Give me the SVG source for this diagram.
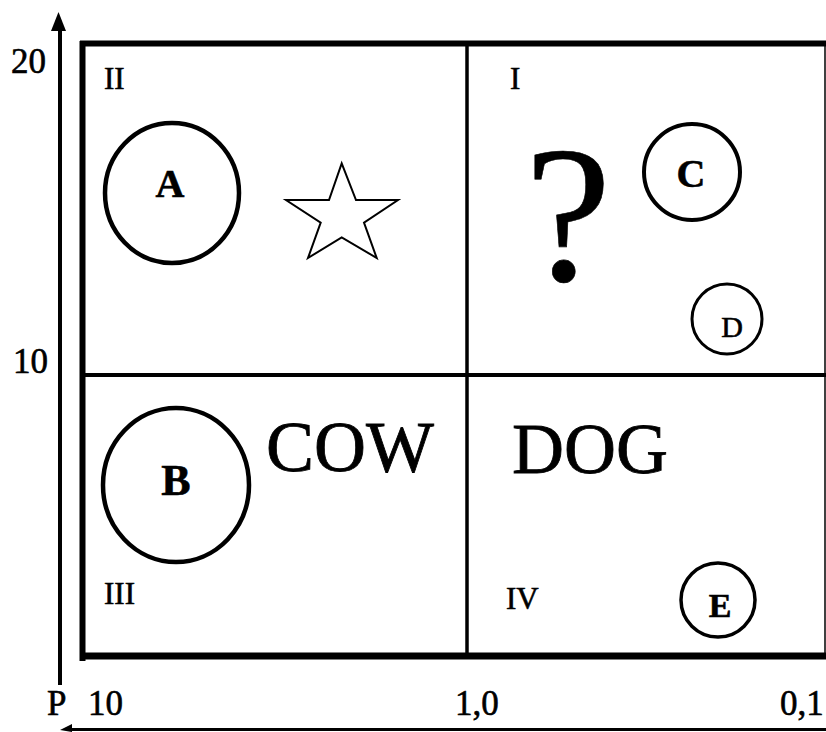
<svg xmlns="http://www.w3.org/2000/svg" width="826" height="732" viewBox="0 0 826 732">
<defs>
<style>
.t{font-family:"Liberation Serif","Times New Roman",serif;fill:#000;stroke:#000;stroke-width:0.6}
.ax{font-size:35px}
.q{font-size:31px}
.big{font-size:72px;stroke-width:0.8}
.lb{font-weight:bold}
.c{fill:none;stroke:#000}
</style>
</defs>
<rect width="826" height="732" fill="#fff"/>
<g id="connectors">
<line x1="60" y1="685" x2="60" y2="30" stroke="#000" stroke-width="4"/>
<path d="M51,31 L58.5,12 L66,31 z" fill="#000"/>
<line x1="826" y1="729.5" x2="70" y2="729.5" stroke="#000" stroke-width="3"/>
<path d="M72,724 L60,730 L72,732 z" fill="#000"/>
</g>
<g id="frame">
<line x1="82.5" y1="41" x2="82.5" y2="661" stroke="#000" stroke-width="6"/>
<line x1="80" y1="43.5" x2="826" y2="43.5" stroke="#000" stroke-width="6"/>
<line x1="80" y1="656" x2="826" y2="656" stroke="#000" stroke-width="7"/>
<line x1="467" y1="42" x2="467" y2="656" stroke="#000" stroke-width="3.5"/>
<line x1="82" y1="375" x2="826" y2="375" stroke="#000" stroke-width="4"/>
<line x1="825" y1="43" x2="825" y2="656" stroke="#000" stroke-width="1.5"/>
</g>
<g id="axis-labels">
<text class="t ax" x="11" y="73">20</text>
<text class="t ax" x="13" y="373">10</text>
<text class="t ax" x="47" y="715">P</text>
<text class="t ax" x="88" y="715">10</text>
<text class="t ax" x="455" y="715">1,0</text>
<text class="t ax" x="780" y="715">0,1</text>
</g>
<g id="quadrant-labels">
<text class="t q" x="104" y="89">II</text>
<text class="t q" x="510" y="89">I</text>
<text class="t q" x="104" y="604">III</text>
<text class="t q" x="506" y="609">IV</text>
</g>
<g id="node-A">
<ellipse class="c" cx="172" cy="193" rx="67" ry="70" stroke-width="4.5"/>
<text class="t lb" x="170" y="197" font-size="40" text-anchor="middle">A</text>
</g>
<g id="node-star">
<polygon points="341.7,163.3 356,200 398,200 364,222.7 376.7,258 341.7,237.3 308,258 320.7,222.7 286,200 329,200" fill="#fff" stroke="#000" stroke-width="2"/>
</g>
<g id="node-B">
<ellipse class="c" cx="176" cy="485" rx="73" ry="77" stroke-width="4.5"/>
<text class="t lb" x="176" y="495" font-size="44" text-anchor="middle">B</text>
</g>
<g id="node-COW">
<text class="t big" x="266" y="471">COW</text>
</g>
<g id="node-DOG">
<text class="t big" x="512" y="473">DOG</text>
</g>
<g id="node-question">
<text class="t" x="568" y="280" font-size="195" text-anchor="middle" stroke-width="3">?</text>
</g>
<g id="node-C">
<circle class="c" cx="692" cy="172" r="48" stroke-width="4"/>
<text class="t lb" x="691" y="187" font-size="40" text-anchor="middle">C</text>
</g>
<g id="node-D">
<circle class="c" cx="727" cy="319" r="35" stroke-width="3"/>
<text class="t" x="732" y="337" font-size="30" text-anchor="middle">D</text>
</g>
<g id="node-E">
<circle class="c" cx="718" cy="600" r="37" stroke-width="3.5"/>
<text class="t lb" x="720" y="617" font-size="34" text-anchor="middle">E</text>
</g>
</svg>
